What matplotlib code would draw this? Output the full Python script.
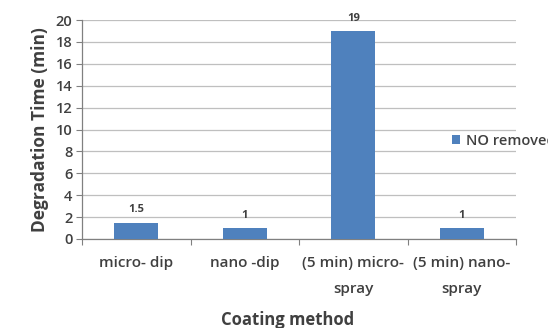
import matplotlib as mpl
mpl.use('Agg')
import matplotlib.pyplot as plt
import numpy as np

# degradation time per coating method
categories = ['micro- dip', 'nano -dip', '(5 min) micro-\nspray', '(5 min) nano-\nspray']
values = [1.5, 1, 19, 1]
value_labels = ['1.5', '1', '19', '1']
series_name = 'NO removed'
yticks = [0, 2, 4, 6, 8, 10, 12, 14, 16, 18, 20]

plt.rcParams['font.family'] = ['Open Sans', 'DejaVu Sans']
text_color = '#404040'
bar_color = '#4F81BD'

fig = plt.figure(figsize=(5.48, 3.28), dpi=100)
ax = fig.add_axes([82 / 548, 1 - 239 / 328, 434 / 548, 219 / 328])

x = np.arange(len(categories))
bars = ax.bar(x, values, width=0.41, color=bar_color, label=series_name, zorder=3)
for xi, v, lab in zip(x, values, value_labels):
    ax.text(xi, v + 0.65, lab, ha='center', va='bottom', fontsize=8,
            fontweight='bold', color=text_color)

ax.set_xlim(-0.5, len(categories) - 0.5)
ax.set_ylim(0, 20)
ax.set_yticks(yticks)
ax.yaxis.grid(True, color='#bfbfbf', linewidth=0.9, zorder=0)
ax.set_axisbelow(True)

for s in ['top', 'right']:
    ax.spines[s].set_visible(False)
for s in ['left', 'bottom']:
    ax.spines[s].set_color('#808080')
    ax.spines[s].set_linewidth(0.9)

# category ticks sit between the bars
ax.set_xticks(np.arange(len(categories) + 1) - 0.5)
ax.set_xticklabels([])
ax.set_xticks(x, minor=True)
ax.set_xticklabels(categories, minor=True, fontsize=11, fontweight='semibold',
                   color=text_color, linespacing=2.1)
ax.tick_params(axis='x', which='minor', length=0, pad=12.5)
ax.tick_params(axis='x', which='major', length=4, color='#808080', direction='out')
ax.tick_params(axis='y', length=4, color='#808080', labelsize=10.5,
               labelcolor=text_color, pad=3)
for t in ax.get_yticklabels():
    t.set_fontweight('semibold')

ax.set_ylabel('Degradation Time (min)', fontsize=12.5, fontweight='bold',
              color=text_color, labelpad=5)
fig.text(288 / 548, 1 - 320 / 328, 'Coating method', ha='center', va='center',
         fontsize=12, fontweight='bold', color=text_color)

fig.legend(loc='center left', bbox_to_anchor=(452 / 548, 1 - 141 / 328),
           frameon=False, handlelength=0.55, handleheight=0.55, handletextpad=0.4,
           prop={'size': 10.5, 'weight': 'semibold'}, labelcolor=text_color,
           borderaxespad=0, borderpad=0)

fig.savefig('out.png', dpi=100)
